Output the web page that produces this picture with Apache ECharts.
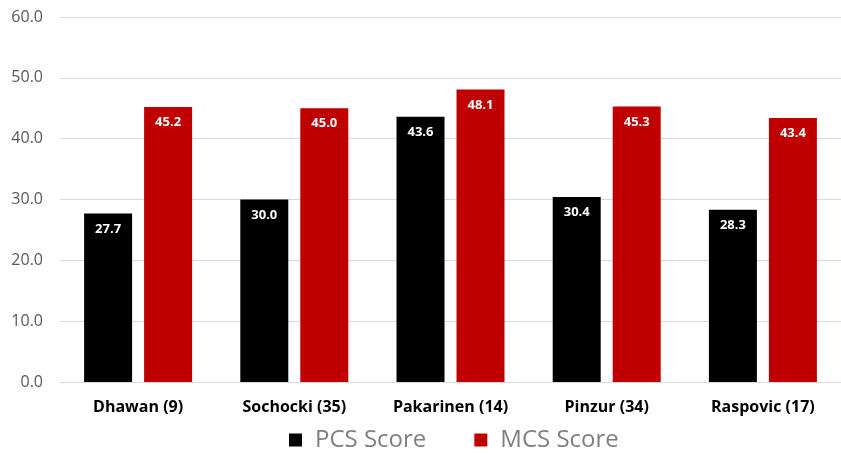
<!DOCTYPE html>
<html>
<head>
<meta charset="utf-8">
<script src="https://cdn.jsdelivr.net/npm/echarts@6/dist/echarts.min.js"></script>
<style>
  html, body { margin: 0; padding: 0; background: #fff; }
  #chart { width: 841px; height: 455px; }
</style>
</head>
<body>
<div id="chart"></div>
<script>
// data
var categories = ["Dhawan (9)", "Sochocki (35)", "Pakarinen (14)", "Pinzur (34)", "Raspovic (17)"];
var pcsScore = [27.7, 30.0, 43.6, 30.4, 28.3];
var mcsScore = [45.2, 45.0, 48.1, 45.3, 43.4];

var myChart = echarts.init(document.getElementById("chart"));

var barLabel = {
  show: true,
  position: "insideTop",
  distance: 9,
  color: "#fff",
  fontWeight: "bold",
  fontSize: 13,
  fontFamily: "Open Sans",
  formatter: function (p) { return p.value.toFixed(1); }
};

var option = {
  animation: false,
  textStyle: { fontFamily: "Open Sans" },
  grid: { left: 60, right: -6, top: 17, bottom: 73 },
  legend: {
    bottom: -2,
    left: 284,
    itemWidth: 13,
    itemHeight: 13,
    itemGap: 48,
    icon: "rect",
    textStyle: { color: "#7f7f7f", fontSize: 24, fontFamily: "Open Sans", padding: [0, 0, 0, 8] },
    data: ["PCS Score", "MCS Score"]
  },
  xAxis: {
    type: "category",
    data: categories,
    axisLine: { lineStyle: { color: "#d9d9d9" } },
    axisTick: { show: false },
    axisLabel: { color: "#000", fontWeight: "bold", fontSize: 16, margin: 17, fontFamily: "Open Sans" }
  },
  yAxis: {
    type: "value",
    min: 0,
    max: 60,
    interval: 10,
    axisLine: { show: false },
    axisTick: { show: false },
    splitLine: { lineStyle: { color: "#d9d9d9", width: 1 } },
    axisLabel: {
      color: "#595959",
      fontSize: 16,
      margin: 17,
      formatter: function (v) { return v.toFixed(1); }
    }
  },
  series: [
    {
      name: "PCS Score",
      type: "bar",
      data: pcsScore,
      barWidth: 48,
      barGap: "25%",
      itemStyle: { color: "#000000" },
      label: barLabel
    },
    {
      name: "MCS Score",
      type: "bar",
      data: mcsScore,
      barWidth: 48,
      itemStyle: { color: "#c00000" },
      label: barLabel
    }
  ]
};
myChart.setOption(option);
</script>
</body>
</html>
